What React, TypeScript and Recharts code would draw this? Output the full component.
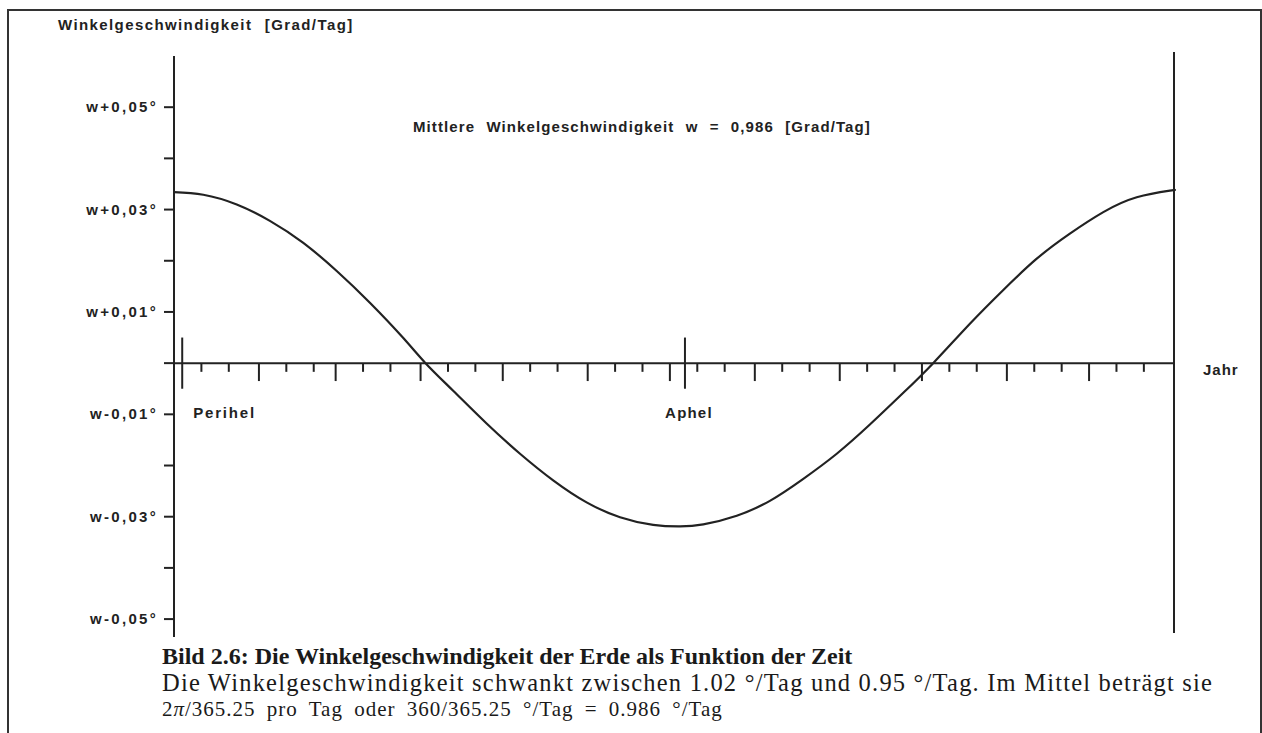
import React from 'react';
import { LineChart, Line, XAxis, YAxis, ReferenceLine } from 'recharts';

const INK = '#222';
const SANS = '"Liberation Sans", Arial, Helvetica, sans-serif';
const SERIF = '"Liberation Serif", "Times New Roman", serif';

// day of the year, counted from 1 January
const days = [
  0, 10.7, 22.9, 35, 47.2, 59.4, 71.5, 83.7, 91.8, 101.9, 114.1, 126.3, 138.4,
  150.6, 162.8, 174.9, 184.7, 193.2, 205.4, 217.5, 229.7, 241.9, 254, 266.2,
  277.1, 290.5, 302.7, 314.9, 327, 339.2, 351.4, 363.5, 365,
];
// deviation from the mean angular speed w, degrees per day
const deviation = [
  0.0334, 0.0329, 0.031, 0.0278, 0.0235, 0.018, 0.0118, 0.0049, 0, -0.0054,
  -0.0118, -0.0177, -0.0229, -0.0272, -0.0301, -0.0316, -0.0319, -0.0315,
  -0.0298, -0.0269, -0.0226, -0.0177, -0.012, -0.0058, 0, 0.0077, 0.0143,
  0.0204, 0.0253, 0.0295, 0.0324, 0.0337, 0.0338,
];

const monthStarts = [0, 31, 59, 90, 120, 151, 181, 212, 243, 273, 304, 334];
const yTicks = [0.05, 0.04, 0.03, 0.02, 0.01, 0, -0.01, -0.02, -0.03, -0.04, -0.05];
const yTickLabels = ['w+0,05°', '', 'w+0,03°', '', 'w+0,01°', '', 'w-0,01°', '', 'w-0,03°', '', 'w-0,05°'];
const perihelDay = 3;
const aphelDay = 186.5;

const data = days.map((day, i) => ({ day, dw: deviation[i] }));

// tick lengths on the time axis, in y units
const SHORT = 0.0017;
const LONG = 0.0035;
const BIG = 0.005;

const labelStyle = {
  fontFamily: SANS,
  fontSize: 15,
  fontWeight: 700,
  fill: INK,
};

function YTick(props: any) {
  const { x, y, payload } = props;
  const label = yTickLabels[yTicks.indexOf(payload.value)];
  if (!label) return <g />;
  return (
    <text x={x} y={y} dy={5} textAnchor="end" letterSpacing={2.3} {...labelStyle}>
      {label}
    </text>
  );
}

const markLabel = (text: string, dx: number, anchor: string, ls: number) => (props: any) => {
  const vb = props.viewBox;
  return (
    <text
      x={vb.x + dx}
      y={vb.y + vb.height + 29}
      textAnchor={anchor}
      letterSpacing={ls}
      {...labelStyle}
    >
      {text}
    </text>
  );
};

const jahrLabel = (props: any) => {
  const vb = props.viewBox;
  return (
    <text x={vb.x + vb.width + 29} y={vb.y + 12} letterSpacing={1} {...labelStyle}>
      Jahr
    </text>
  );
};

export default function App() {
  const shortTicks = monthStarts.flatMap((m) => [m + 10, m + 20]);
  const longTicks = monthStarts.slice(1);

  return (
    <div
      style={{
        position: 'absolute',
        left: 0,
        top: 0,
        width: 1262,
        height: 733,
        overflow: 'hidden',
        background: '#fff',
      }}
    >
      <LineChart
        width={1262}
        height={733}
        data={data}
        margin={{ top: 56, right: 88, bottom: 96, left: 0 }}
      >
        <XAxis dataKey="day" type="number" domain={[0, 365]} hide height={0} />
        <YAxis
          type="number"
          domain={[-0.0535, 0.06]}
          allowDataOverflow
          ticks={yTicks}
          interval={0}
          width={174}
          tickSize={10}
          tickMargin={6}
          axisLine={{ stroke: INK, strokeWidth: 2 }}
          tickLine={{ stroke: INK, strokeWidth: 2 }}
          tick={<YTick />}
        />
        <ReferenceLine y={0} stroke={INK} strokeWidth={2} label={jahrLabel} />
        <ReferenceLine
          segment={[{ x: 365, y: 0.0608 }, { x: 365, y: -0.0527 }]}
          ifOverflow="visible"
          stroke={INK}
          strokeWidth={2}
        />
        {shortTicks.map((d) => (
          <ReferenceLine
            key={`s${d}`}
            segment={[{ x: d, y: 0 }, { x: d, y: -SHORT }]}
            stroke={INK}
            strokeWidth={2}
          />
        ))}
        {longTicks.map((d) => (
          <ReferenceLine
            key={`l${d}`}
            segment={[{ x: d, y: 0 }, { x: d, y: -LONG }]}
            stroke={INK}
            strokeWidth={2}
          />
        ))}
        <ReferenceLine
          segment={[{ x: perihelDay, y: BIG }, { x: perihelDay, y: -BIG }]}
          stroke={INK}
          strokeWidth={2}
          label={markLabel('Perihel', 11, 'start', 1.8)}
        />
        <ReferenceLine
          segment={[{ x: aphelDay, y: BIG }, { x: aphelDay, y: -BIG }]}
          stroke={INK}
          strokeWidth={2}
          label={markLabel('Aphel', 4, 'middle', 1.2)}
        />
        <Line
          type="natural"
          dataKey="dw"
          stroke={INK}
          strokeWidth={2.2}
          dot={false}
          isAnimationActive={false}
        />
      </LineChart>

      <svg
        width={1262}
        height={733}
        style={{ position: 'absolute', left: 0, top: 0, pointerEvents: 'none' }}
      >
        <path d="M8,733 V10 H1261 V733" fill="none" stroke="#333" strokeWidth={2} />
        <text x={58} y={30} letterSpacing={1.4} wordSpacing={7} {...labelStyle}>
          Winkelgeschwindigkeit [Grad/Tag]
        </text>
        <text x={413} y={132} letterSpacing={1.1} wordSpacing={6} {...labelStyle}>
          Mittlere Winkelgeschwindigkeit w = 0,986 [Grad/Tag]
        </text>
        <g fontFamily={SERIF} fill="#1a1a1a">
          <text x={162} y={664} fontSize={24} fontWeight={700}>
            Bild 2.6: Die Winkelgeschwindigkeit der Erde als Funktion der Zeit
          </text>
          <text x={162} y={691} fontSize={24.5} letterSpacing={1.2}>
            Die Winkelgeschwindigkeit schwankt zwischen 1.02 °/Tag und 0.95 °/Tag. Im Mittel beträgt sie
          </text>
          <text x={162} y={716} fontSize={21} letterSpacing={1} wordSpacing={5}>
            <tspan>2</tspan>
            <tspan fontStyle="italic">π</tspan>
            <tspan>/365.25 pro Tag oder 360/365.25 °/Tag = 0.986 °/Tag</tspan>
          </text>
        </g>
      </svg>
    </div>
  );
}
